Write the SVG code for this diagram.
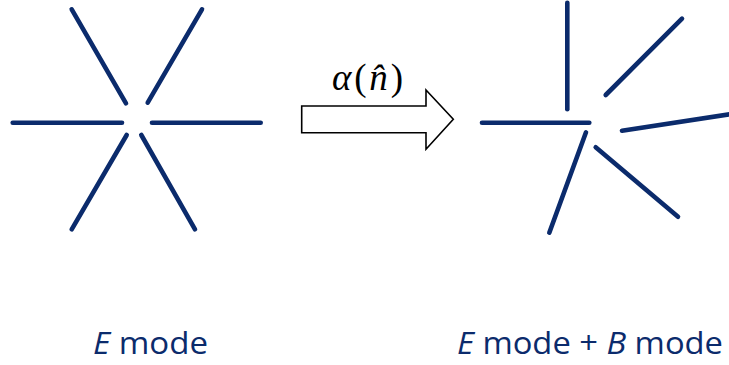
<svg xmlns="http://www.w3.org/2000/svg" width="729" height="365" viewBox="0 0 729 365">
  <style>
    .ray { stroke: #0b2b6c; stroke-width: 4.6; stroke-linecap: round; fill: none; }
    .lbl { font-family: "Open Sans", "Liberation Sans", sans-serif; font-size: 31px; fill: #0b2b6c; }
    .math { font-family: "Liberation Serif", "DejaVu Serif", serif; font-size: 37px; fill: #000; }
  </style>
  <rect width="729" height="365" fill="#ffffff"/>
  <g id="e-mode-pattern">
    <line class="ray" x1="71.7" y1="9.3" x2="126" y2="103.3"/>
    <line class="ray" x1="202" y1="9.3" x2="147.7" y2="102.7"/>
    <line class="ray" x1="12.7" y1="122.7" x2="122" y2="122.7"/>
    <line class="ray" x1="152" y1="122.7" x2="260.7" y2="122.7"/>
    <line class="ray" x1="126.7" y1="135" x2="71.7" y2="229.3"/>
    <line class="ray" x1="141.3" y1="135" x2="195" y2="229.3"/>
  </g>
  <g id="eb-mode-pattern">
    <line class="ray" x1="567.3" y1="2.7" x2="567.3" y2="109.3"/>
    <line class="ray" x1="682" y1="18.7" x2="605.7" y2="95"/>
    <line class="ray" x1="482" y1="122.7" x2="589.3" y2="122.7"/>
    <line class="ray" x1="622" y1="130.7" x2="731" y2="114"/>
    <line class="ray" x1="586" y1="132.3" x2="549.3" y2="232.7"/>
    <line class="ray" x1="595.7" y1="147.3" x2="678" y2="216.7"/>
  </g>
  <g id="connectors">
    <polygon points="301.7,106 426,106 426,90 453.3,119.3 426,149.3 426,132.7 301.7,132.7" fill="#ffffff" stroke="#000000" stroke-width="1.6" stroke-linejoin="miter"/>
  </g>
  <g id="arrow-label">
    <text class="math" x="332" y="90" textLength="71" lengthAdjust="spacing"><tspan font-style="italic">α</tspan>(<tspan font-style="italic">n̂</tspan>)</text>
  </g>
  <g id="label-e">
    <text class="lbl" x="93" y="354" textLength="115" lengthAdjust="spacingAndGlyphs"><tspan font-style="italic">E</tspan> mode</text>
  </g>
  <g id="label-eb">
    <text class="lbl" x="457" y="354" textLength="266" lengthAdjust="spacingAndGlyphs"><tspan font-style="italic">E</tspan> mode + <tspan font-style="italic">B</tspan> mode</text>
  </g>
</svg>
